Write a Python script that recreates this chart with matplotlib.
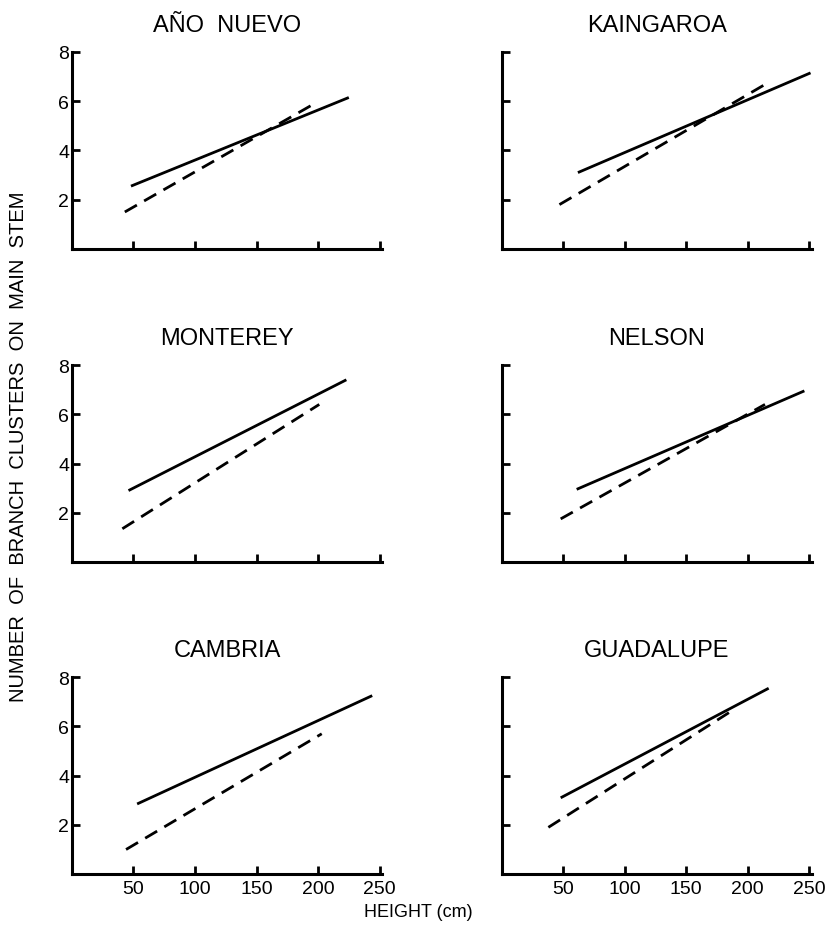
import matplotlib
matplotlib.use("Agg")
import matplotlib.pyplot as plt

plt.rcParams['font.family'] = ['Liberation Sans', 'DejaVu Sans']

sites = ['AÑO  NUEVO', 'KAINGAROA', 'MONTEREY', 'NELSON', 'CAMBRIA', 'GUADALUPE']

# fitted lines: (height start, height end), (clusters start, clusters end)
solid_x = [(48, 225), (62, 251), (46, 223), (61, 246), (53, 244), (48, 217)]
solid_y = [(2.55, 6.15), (3.1, 7.15), (2.9, 7.4), (2.95, 6.95), (2.85, 7.25), (3.1, 7.55)]
dash_x = [(43, 197), (47, 213), (41, 201), (48, 214), (44, 203), (38, 186)]
dash_y = [(1.5, 5.9), (1.8, 6.65), (1.35, 6.4), (1.75, 6.4), (1.0, 5.7), (1.9, 6.6)]

xticks = [50, 100, 150, 200, 250]
yticks = [2, 4, 6, 8]

fig = plt.figure(figsize=(8.36, 9.29), dpi=100)

lefts = [0.086, 0.600]
bottoms = [0.731, 0.394, 0.058]
w, h = 0.371, 0.212

for i, name in enumerate(sites):
    r, c = divmod(i, 2)
    ax = fig.add_axes([lefts[c], bottoms[r], w, h])
    ax.plot(solid_x[i], solid_y[i], color='black', lw=2.0, solid_capstyle='butt')
    ax.plot(dash_x[i], dash_y[i], color='black', lw=2.0, dashes=(5, 3))
    ax.set_xlim(0, 252)
    ax.set_ylim(0, 8)
    for s in ['top', 'right']:
        ax.spines[s].set_visible(False)
    for s in ['left', 'bottom']:
        ax.spines[s].set_linewidth(2.2)
    ax.spines['left'].set_bounds(0, 8)
    ax.set_xticks(xticks)
    ax.set_yticks(yticks)
    ax.tick_params(direction='in', length=6, width=2, labelsize=14)
    ax.tick_params(axis='y', pad=2)
    ax.tick_params(axis='x', pad=4)
    if r < 2:
        ax.set_xticklabels([])
    if c == 1:
        ax.set_yticklabels([])
    ax.set_title(name, fontsize=17, pad=15)

fig.text(0.022, 0.519, 'NUMBER  OF  BRANCH  CLUSTERS  ON  MAIN  STEM', rotation=90,
         ha='center', va='center', fontsize=14.5)
fig.text(0.5, 0.018, 'HEIGHT (cm)', ha='center', va='center', fontsize=13)

fig.savefig('out.png', dpi=100)
